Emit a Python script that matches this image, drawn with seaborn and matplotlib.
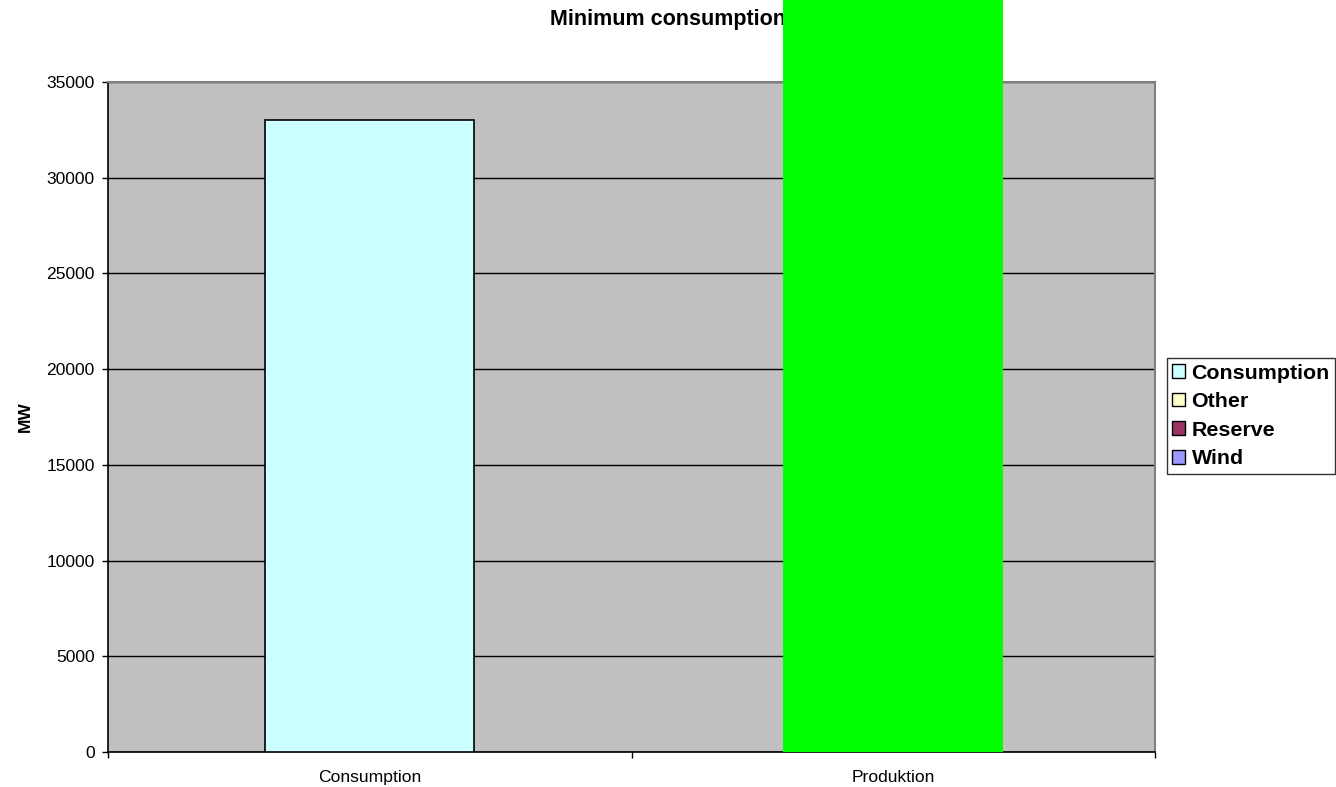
import seaborn as sns
import matplotlib.pyplot as plt
import pandas as pd
from matplotlib.patches import Patch
from matplotlib.ticker import FixedLocator

# data
categories = ["Consumption", "Produktion"]
values = [33000, 40000]
bar_colors = ["#CCFFFF", "#00FF00"]
legend_labels = ["Consumption", "Other", "Reserve", "Wind"]
legend_colors = ["#CCFFFF", "#FFFFCC", "#993366", "#9999FF"]
y_ticks = [0, 5000, 10000, 15000, 20000, 25000, 30000, 35000]

sns.set_style("white")
plt.rcParams["font.family"] = ["Liberation Sans", "DejaVu Sans"]
plt.rcParams["text.color"] = "black"
plt.rcParams["axes.labelcolor"] = "black"
plt.rcParams["xtick.color"] = "black"
plt.rcParams["ytick.color"] = "black"

df = pd.DataFrame({"cat": categories, "MW": values})

fig = plt.figure(figsize=(13.36, 7.87), dpi=100)
ax = fig.add_axes([108 / 1336, 1 - 752 / 787, 1047 / 1336, 670 / 787])
ax.set_facecolor("#C0C0C0")

sns.barplot(data=df, x="cat", y="MW", hue="cat", palette=bar_colors,
            width=0.4, legend=False, ax=ax, saturation=1)

# consumption bar has a black outline, production bar none and overflows the plot
cons, prod = ax.patches[0], ax.patches[1]
cons.set_edgecolor("black")
cons.set_linewidth(1.2)
cons.set_zorder(3)
cx = prod.get_x() + prod.get_width() / 2
prod.set_width(0.42)
prod.set_x(cx - 0.21)
prod.set_linewidth(0)
prod.set_clip_on(False)
prod.set_zorder(5)

ax.set_xlim(-0.5, 1.5)
ax.set_ylim(0, 35000)
ax.set_yticks(y_ticks)
ax.yaxis.grid(True, color="black", linewidth=1)
ax.set_axisbelow(True)

for s in ["top", "right"]:
    ax.spines[s].set_color("#808080")
    ax.spines[s].set_linewidth(1.5)
for s in ["left", "bottom"]:
    ax.spines[s].set_color("black")
    ax.spines[s].set_linewidth(1.2)

ax.xaxis.set_minor_locator(FixedLocator([-0.5, 0.5, 1.5]))
ax.tick_params(axis="x", which="major", length=0, pad=13, labelsize=12.6)
ax.tick_params(axis="x", which="minor", length=4.5, width=1, color="black", direction="out", bottom=True)
ax.tick_params(axis="y", length=4.5, width=1, color="black", direction="out", left=True, pad=5, labelsize=12.6)

ax.set_xlabel("")
ax.set_ylabel("MW", fontsize=12.5, fontweight="bold")
ax.yaxis.set_label_coords(-(108 - 33) / 1047, 0.5)

fig.text(0.5, 1 - 20 / 787, "Minimum consumption", ha="center", va="center",
         fontsize=15.5, fontweight="bold", zorder=-1)

handles = [Patch(facecolor=c, edgecolor="black", linewidth=1) for c in legend_colors]
leg = fig.legend(handles, legend_labels, loc="center left", bbox_to_anchor=(1167 / 1336, 1 - 416 / 787),
                 frameon=True, fancybox=False, prop={"weight": "bold", "size": 15.4},
                 handlelength=0.6, handleheight=0.6, handletextpad=0.3, borderpad=0.25,
                 labelspacing=0.45, borderaxespad=0)
leg.get_frame().set_edgecolor("black")
leg.get_frame().set_linewidth(1)

fig.savefig("out.png", dpi=100)
